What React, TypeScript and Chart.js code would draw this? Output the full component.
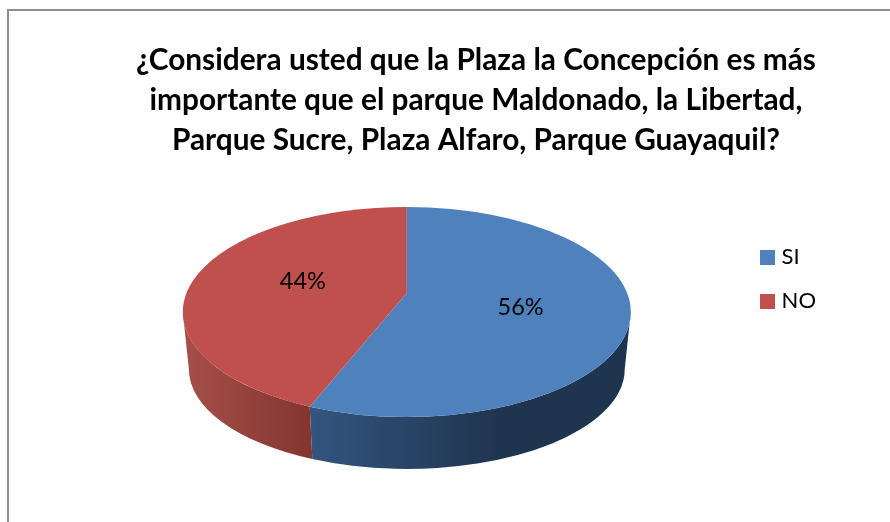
import React, { useEffect, useRef } from "react";
import { Chart, registerables } from "chart.js";

Chart.register(...registerables);

const categories = ["SI", "NO"];
const shares = [56, 44];
const topColors = ["#4f81bd", "#c0504d"];
const sideColors = [
  ["#33557e", "#1f344e", "#1f344e"],
  ["#a54f4a", "#853530", "#853530"],
];
const titleLines = [
  "¿Considera usted que la Plaza la Concepción es más",
  "importante que el parque Maldonado, la Libertad,",
  "Parque Sucre, Plaza Alfaro, Parque Guayaquil?",
];

const FONT = "Lato, 'Open Sans', sans-serif";
const SQUASH = 105 / 224;
const DEPTH = { rx: 0.973, ry: 100 / 224, dy: 57 / 224 };
const APEX_LIFT = 19 / 224;
const PERSPECTIVE = 1.195;
const TITLE_SHIFT = 27;
const LEGEND_LIFT = 33;

// foreshortening: the near part of the disc takes a larger share of the rim
const warp = (angle: number) => {
  const phi = angle + Math.PI / 2 - Math.PI;
  return 2 * Math.atan(PERSPECTIVE * Math.tan(phi / 2)) + Math.PI / 2;
};

const pie3d = {
  id: "pie3d",
  afterLayout(chart: any) {
    const t = chart.titleBlock;
    t.left += TITLE_SHIFT;
    t.right += TITLE_SHIFT;
    const l = chart.legend;
    l.top -= LEGEND_LIFT;
    l.bottom -= LEGEND_LIFT;
  },
  beforeDraw(chart: any) {
    const ctx = chart.ctx;
    ctx.save();
    ctx.strokeStyle = "#8f8f8f";
    ctx.lineWidth = 2;
    ctx.strokeRect(8, 10, chart.width + 20, chart.height + 20);
    ctx.restore();
  },
  beforeDatasetDraw(chart: any, args: any) {
    const ctx = chart.ctx;
    const arcs = args.meta.data;
    const span = (el: any) => [warp(el.startAngle), warp(el.endAngle)];
    arcs.forEach((el: any, i: number) => {
      const { x: cx, y: cy, outerRadius: r } = el;
      const [start, end] = span(el);
      const rx = r, ry = r * SQUASH;
      const brx = r * DEPTH.rx, bry = r * DEPTH.ry, bcy = cy + r * DEPTH.dy;
      // front-facing part of the rim (angles 0..PI)
      const a = Math.max(start, 0);
      const b = Math.min(end, Math.PI);
      if (b <= a) return;
      const x0 = cx + rx * Math.cos(b);
      const x1 = cx + rx * Math.cos(a);
      const g = ctx.createLinearGradient(Math.min(x0, x1), 0, Math.max(x0, x1), 0);
      const stops = sideColors[i];
      g.addColorStop(0, stops[0]);
      g.addColorStop(i === 0 ? 0.6 : 1, stops[1]);
      g.addColorStop(1, stops[2]);
      ctx.beginPath();
      ctx.ellipse(cx, cy, rx, ry, 0, a, b, false);
      ctx.lineTo(cx + brx * Math.cos(b), bcy + bry * Math.sin(b));
      ctx.ellipse(cx, bcy, brx, bry, 0, b, a, true);
      ctx.closePath();
      ctx.fillStyle = g;
      ctx.fill();
    });
    arcs.forEach((el: any, i: number) => {
      const { x: cx, y: cy, outerRadius: r } = el;
      const [start, end] = span(el);
      ctx.beginPath();
      ctx.moveTo(cx, cy - r * APEX_LIFT);
      ctx.ellipse(cx, cy, r, r * SQUASH, 0, start, end, false);
      ctx.closePath();
      ctx.fillStyle = topColors[i];
      ctx.fill();
    });
    ctx.save();
    ctx.fillStyle = "#000";
    ctx.font = `23.5px ${FONT}`;
    ctx.textAlign = "center";
    ctx.textBaseline = "middle";
    const total = shares.reduce((s, v) => s + v, 0);
    arcs.forEach((el: any, i: number) => {
      const mid = (el.startAngle + el.endAngle) / 2;
      const r = el.outerRadius;
      const x = el.x + r * 0.022 + 0.495 * r * Math.cos(mid);
      const y = el.y - r * 0.08 + 0.66 * r * SQUASH * Math.sin(mid);
      ctx.fillText(`${Math.round((shares[i] / total) * 100)}%`, x, y);
    });
    ctx.restore();
    return false;
  },
};

export default function App() {
  const ref = useRef<HTMLCanvasElement>(null);
  useEffect(() => {
    const swatches = topColors.map((c) => {
      const s = document.createElement("canvas");
      s.width = 15;
      s.height = 15;
      const x = s.getContext("2d")!;
      x.fillStyle = c;
      x.fillRect(0, 0, 15, 15);
      return s;
    });
    const chart = new Chart(ref.current!, {
      type: "pie",
      data: {
        labels: categories,
        datasets: [{ data: shares, backgroundColor: topColors, borderWidth: 0, radius: 224 }],
      },
      plugins: [pie3d],
      options: {
        responsive: false,
        animation: false,
        layout: { padding: { left: 72, right: 64, top: 10, bottom: 58 } },
        plugins: {
          title: {
            display: true,
            text: titleLines,
            color: "#000",
            font: { family: FONT, size: 29.8, weight: "bold", lineHeight: 40 / 29.8 },
            padding: { top: 30, bottom: 0 },
          },
          legend: {
            position: "right",
            fullSize: false,
            labels: {
              color: "#000",
              font: { family: FONT, size: 22 },
              padding: 22,
              usePointStyle: true,
              pointStyleWidth: 7,
              generateLabels: () =>
                categories.map((text, i) => ({
                  text,
                  index: i,
                  datasetIndex: 0,
                  fontColor: "#000",
                  fillStyle: topColors[i],
                  strokeStyle: topColors[i],
                  lineWidth: 0,
                  hidden: false,
                  pointStyle: swatches[i],
                })),
            },
          },
          tooltip: { enabled: false },
        },
      },
    } as any);
    return () => chart.destroy();
  }, []);
  return (
    <canvas
      ref={ref}
      width={890}
      height={522}
      style={{ position: "absolute", left: 0, top: 0, display: "block" }}
    />
  );
}
